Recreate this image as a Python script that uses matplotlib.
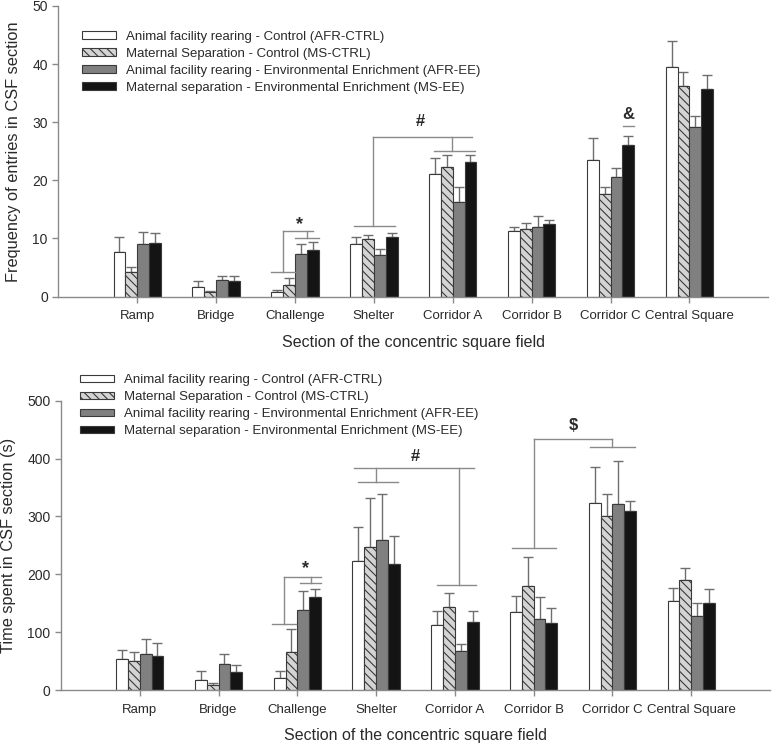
import numpy as np
import matplotlib
matplotlib.use('Agg')
import matplotlib.pyplot as plt

# Secciones del campo y grupos
secciones = ['Ramp', 'Bridge', 'Challenge', 'Shelter', 'Corridor A', 'Corridor B', 'Corridor C', 'Central Square']
grupos = ['Animal facility rearing - Control (AFR-CTRL)',
          'Maternal Separation - Control (MS-CTRL)',
          'Animal facility rearing - Environmental Enrichment (AFR-EE)',
          'Maternal separation - Environmental Enrichment (MS-EE)']

# Frecuencia de entradas (media y error)
frec_afr_ctrl = [7.6, 1.6, 0.8, 9.0, 21.0, 11.3, 23.5, 39.5]
frec_ms_ctrl = [4.2, 0.8, 1.9, 9.9, 22.3, 11.6, 17.6, 36.2]
frec_afr_ee = [9.0, 2.8, 7.4, 7.1, 16.2, 11.9, 20.5, 29.2]
frec_ms_ee = [9.2, 2.7, 8.0, 10.3, 23.2, 12.4, 26.1, 35.7]
frec_err_afr_ctrl = [2.7, 1.0, 0.4, 1.3, 2.8, 0.6, 3.8, 4.4]
frec_err_ms_ctrl = [0.9, 0.15, 1.3, 0.6, 2.0, 1.1, 1.2, 2.5]
frec_err_afr_ee = [2.1, 0.8, 1.65, 1.1, 2.6, 1.9, 1.6, 1.8]
frec_err_ms_ee = [1.7, 0.9, 1.4, 0.6, 1.1, 0.8, 1.5, 2.4]

# Tiempo en cada sección (s)
tiempo_afr_ctrl = [53, 18, 21, 223, 113, 135, 324, 153]
tiempo_ms_ctrl = [50, 9, 65, 247, 144, 180, 300, 191]
tiempo_afr_ee = [62, 45, 139, 260, 67, 122, 322, 128]
tiempo_ms_ee = [58, 32, 160, 217, 118, 116, 309, 150]
tiempo_err_afr_ctrl = [16, 15, 12, 59, 24, 28, 62, 24]
tiempo_err_ms_ctrl = [15, 2.5, 40, 84, 24, 50, 38, 20]
tiempo_err_afr_ee = [27, 18, 33, 78, 12, 38, 74, 23]
tiempo_err_ms_ee = [24, 12, 15, 50, 19, 25, 18, 25]

plt.rcParams['font.family'] = ['Liberation Sans', 'DejaVu Sans']
plt.rcParams['hatch.linewidth'] = 0.8

COLOR_TEXTO = '#2a2a2a'
COLOR_EJE = '#8a8a8a'
COLOR_ERR = '#6e6e6e'
ANCHO = 0.15
estilos = [dict(color='white', hatch=None),
           dict(color='#d4d4d4', hatch='\\\\\\\\'),
           dict(color='#808080', hatch=None),
           dict(color='#141414', hatch=None)]

fig = plt.figure(figsize=(7.73, 7.48), dpi=100)
ax1 = fig.add_axes([0.0754, 0.6036, 0.9185, 0.3884])
ax2 = fig.add_axes([0.0789, 0.0775, 0.9172, 0.3868])


def dibujar_barras(ax, medias, errores, ymax, paso):
    x = np.arange(len(secciones))
    for i, (m, e) in enumerate(zip(medias, errores)):
        pos = x + (i - 1.5) * ANCHO
        ax.bar(pos, m, ANCHO, color=estilos[i]['color'], hatch=estilos[i]['hatch'],
               edgecolor='#3a3a3a', linewidth=0.8, label=grupos[i], zorder=2)
        ax.errorbar(pos, m, yerr=[np.zeros(len(e)), e], fmt='none', ecolor=COLOR_ERR,
                    elinewidth=1.0, capsize=3.6, capthick=1.0, zorder=1)
    ax.set_xlim(-1, 8)
    ax.set_ylim(0, ymax)
    ax.set_yticks(np.arange(0, ymax + 1, paso))
    ax.set_xticks(x)
    ax.set_xticklabels(secciones)
    for s in ['top', 'right']:
        ax.spines[s].set_visible(False)
    for s in ['left', 'bottom']:
        ax.spines[s].set_color(COLOR_EJE)
        ax.spines[s].set_linewidth(1.0)
    ax.tick_params(colors=COLOR_EJE, labelcolor=COLOR_TEXTO, labelsize=10, length=4, width=1)
    ax.tick_params(axis='x', pad=6, labelsize=9.5)
    ax.set_xlabel('Section of the concentric square field', fontsize=11.5, color=COLOR_TEXTO, labelpad=9)


def corchete(ax, x0, x1, y_bajo, xc, y_alto):
    ax.plot([x0, x1], [y_bajo, y_bajo], color=COLOR_EJE, lw=1.0, zorder=3)
    ax.plot([xc, xc], [y_bajo, y_alto], color=COLOR_EJE, lw=1.0, zorder=3)


def linea(ax, x0, x1, y):
    ax.plot([x0, x1], [y, y], color=COLOR_EJE, lw=1.0, zorder=3)


leyenda = dict(loc='upper left', frameon=False, fontsize=9.5, borderpad=0, borderaxespad=0,
               handlelength=2.6, handleheight=0.5, handletextpad=0.7, labelspacing=0.38,
               labelcolor=COLOR_TEXTO)

# Panel superior: frecuencia
dibujar_barras(ax1, [frec_afr_ctrl, frec_ms_ctrl, frec_afr_ee, frec_ms_ee],
               [frec_err_afr_ctrl, frec_err_ms_ctrl, frec_err_afr_ee, frec_err_ms_ee], 50, 10)
ax1.set_ylabel('Frequency of entries in CSF section', fontsize=11.8, color=COLOR_TEXTO, labelpad=8)

corchete(ax1, 1.70, 2.00, 4.2, 1.85, 11.2)
corchete(ax1, 2.00, 2.30, 10.0, 2.15, 11.2)
linea(ax1, 1.85, 2.23, 11.2)
ax1.text(2.06, 12.4, '*', ha='center', va='center', fontsize=13, fontweight='bold', color=COLOR_TEXTO)

corchete(ax1, 2.75, 3.27, 12.2, 2.99, 27.5)
corchete(ax1, 3.76, 4.28, 25.1, 3.995, 27.5)
linea(ax1, 2.99, 4.25, 27.5)
ax1.text(3.59, 30.1, '#', ha='center', va='center', fontsize=12, fontweight='bold', color=COLOR_TEXTO)

linea(ax1, 6.155, 6.295, 29.4)
ax1.text(6.22, 31.3, '&', ha='center', va='center', fontsize=12, fontweight='bold', color=COLOR_TEXTO)

ax1.legend(bbox_to_anchor=(0.0334, 0.915), **leyenda)

# Panel inferior: tiempo
dibujar_barras(ax2, [tiempo_afr_ctrl, tiempo_ms_ctrl, tiempo_afr_ee, tiempo_ms_ee],
               [tiempo_err_afr_ctrl, tiempo_err_ms_ctrl, tiempo_err_afr_ee, tiempo_err_ms_ee], 500, 100)
ax2.set_ylabel('Time spent in CSF section (s)', fontsize=11.8, color=COLOR_TEXTO, labelpad=8)

corchete(ax2, 1.684, 1.98, 114.6, 1.827, 195.8)
corchete(ax2, 2.03, 2.306, 185.5, 2.17, 195.8)
linea(ax2, 1.827, 2.306, 195.8)
ax2.text(2.10, 210, '*', ha='center', va='center', fontsize=13, fontweight='bold', color=COLOR_TEXTO)

corchete(ax2, 2.77, 3.28, 358.9, 3.0, 383.1)
corchete(ax2, 3.77, 4.27, 181.5, 4.05, 383.1)
linea(ax2, 2.72, 4.24, 383.1)
ax2.text(3.50, 404.4, '#', ha='center', va='center', fontsize=12, fontweight='bold', color=COLOR_TEXTO)

corchete(ax2, 4.73, 5.29, 244.8, 5.0, 433.8)
corchete(ax2, 5.72, 6.29, 419.4, 5.99, 433.8)
linea(ax2, 5.0, 5.99, 433.8)
ax2.text(5.50, 458, '$', ha='center', va='center', fontsize=12, fontweight='bold', color=COLOR_TEXTO)

ax2.legend(bbox_to_anchor=(0.0268, 1.091), **leyenda)

fig.savefig('out.png', dpi=100)
